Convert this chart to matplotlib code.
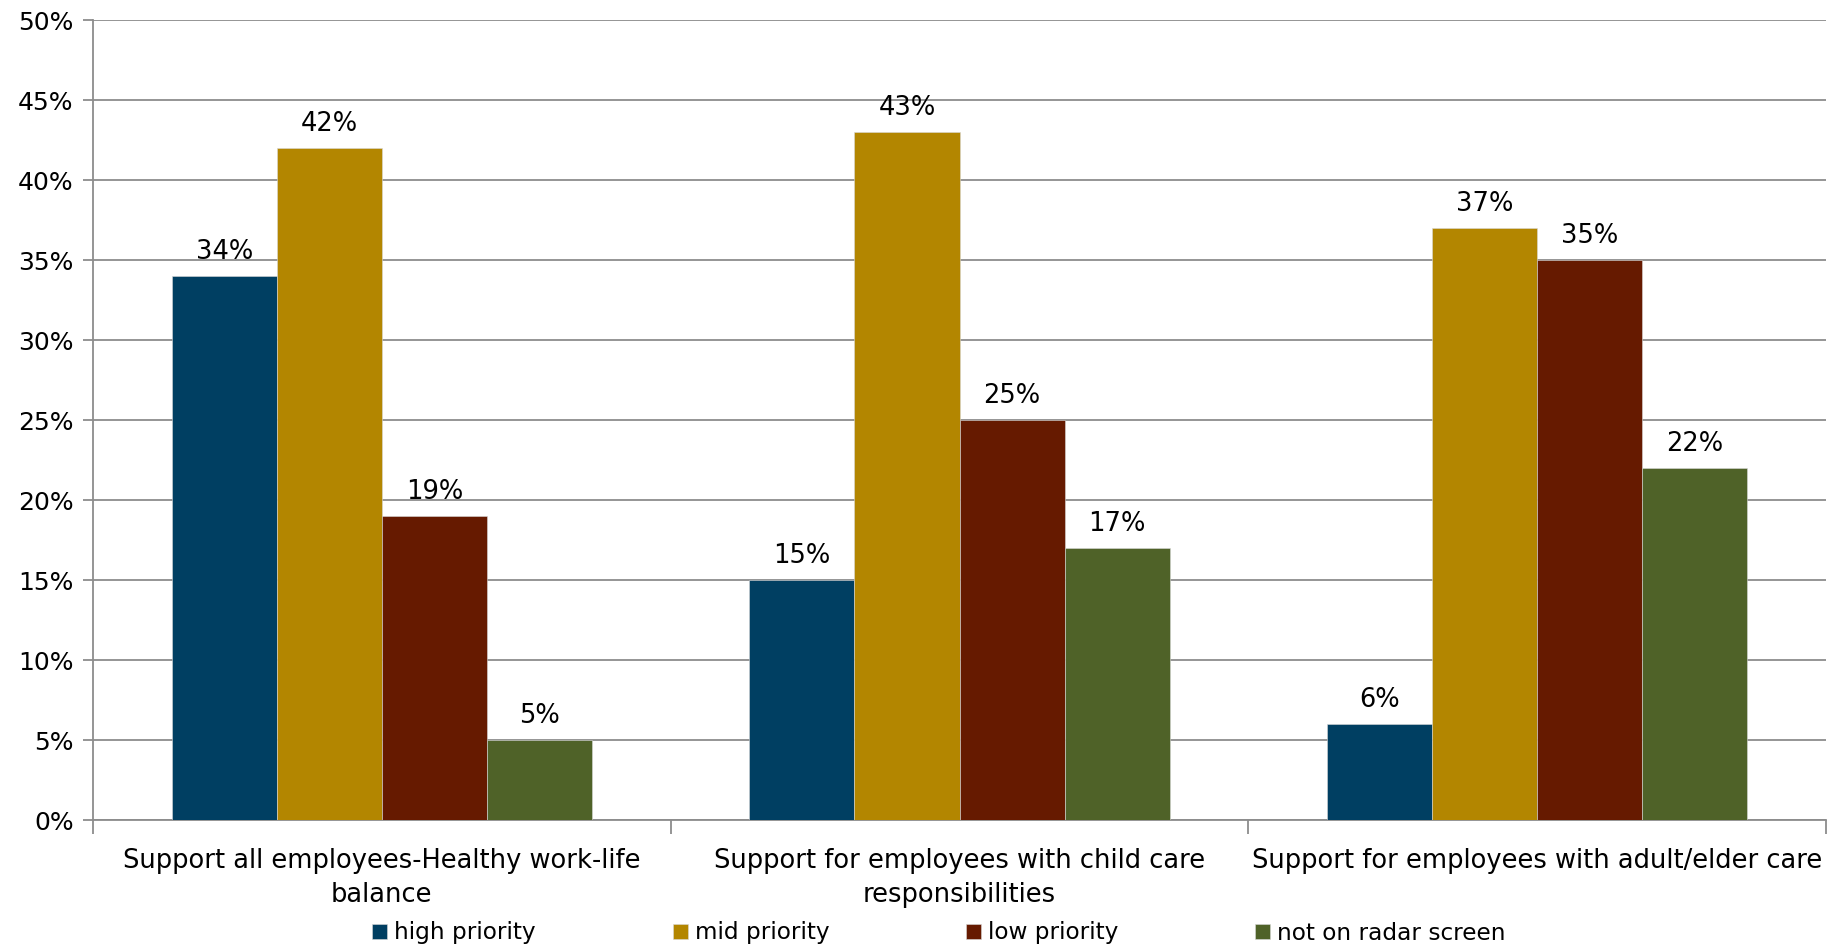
import matplotlib.pyplot as plt
import numpy as np

plt.rcParams['font.family'] = ['DejaVu Sans']

categories = ['Support all employees-Healthy work-life\nbalance',
              'Support for employees with child care\nresponsibilities',
              'Support for employees with adult/elder care']
series_names = ['high priority', 'mid priority', 'low priority', 'not on radar screen']
high = [34, 15, 6]
mid = [42, 43, 37]
low = [19, 25, 35]
not_radar = [5, 17, 22]
colors = ['#003F62', '#B38600', '#661A00', '#4F6228']

fig = plt.figure(figsize=(18.27, 9.48), dpi=100)
ax = fig.add_axes([93 / 1827, 1 - 820 / 948, (1826 - 93) / 1827, 800 / 948])

x = np.arange(len(categories))
w = 0.182
for i, (vals, name) in enumerate(zip([high, mid, low, not_radar], series_names)):
    bars = ax.bar(x + (i - 1.5) * w, vals, w, color=colors[i], label=name,
                  edgecolor='#d8d8d8', linewidth=0.4, zorder=3)
    ax.bar_label(bars, labels=[f'{v}%' for v in vals], padding=8, fontsize=18.5)

ax.set_xlim(-0.5, 2.5)
ax.set_ylim(0, 50)
ax.set_yticks(range(0, 51, 5))
ax.set_yticklabels([f'{t}%' for t in range(0, 51, 5)], fontsize=18)
ax.yaxis.grid(True, color='#8c8c8c', linewidth=1.3, zorder=0)
ax.tick_params(axis='y', length=7, color='#8c8c8c', width=1.3, pad=7)

ax.set_xticks([-0.5, 0.5, 1.5, 2.5])
ax.set_xticklabels([])
ax.set_xticks(x, minor=True)
ax.set_xticklabels(categories, minor=True, fontsize=18.5, linespacing=1.4)
ax.tick_params(axis='x', which='major', length=10, color='#8c8c8c', width=1.3)
ax.tick_params(axis='x', which='minor', length=0, pad=20)

for s in ['top', 'right']:
    ax.spines[s].set_visible(False)
for s in ['left', 'bottom']:
    ax.spines[s].set_color('#8c8c8c')
    ax.spines[s].set_linewidth(1.3)

fig.legend(loc='center', bbox_to_anchor=(939 / 1827, 1 - 933 / 948), ncol=4,
           frameon=False, fontsize=16.7, handlelength=0.65, handleheight=0.65,
           handletextpad=0.3, columnspacing=5.9)

fig.savefig('out.png', dpi=100)
